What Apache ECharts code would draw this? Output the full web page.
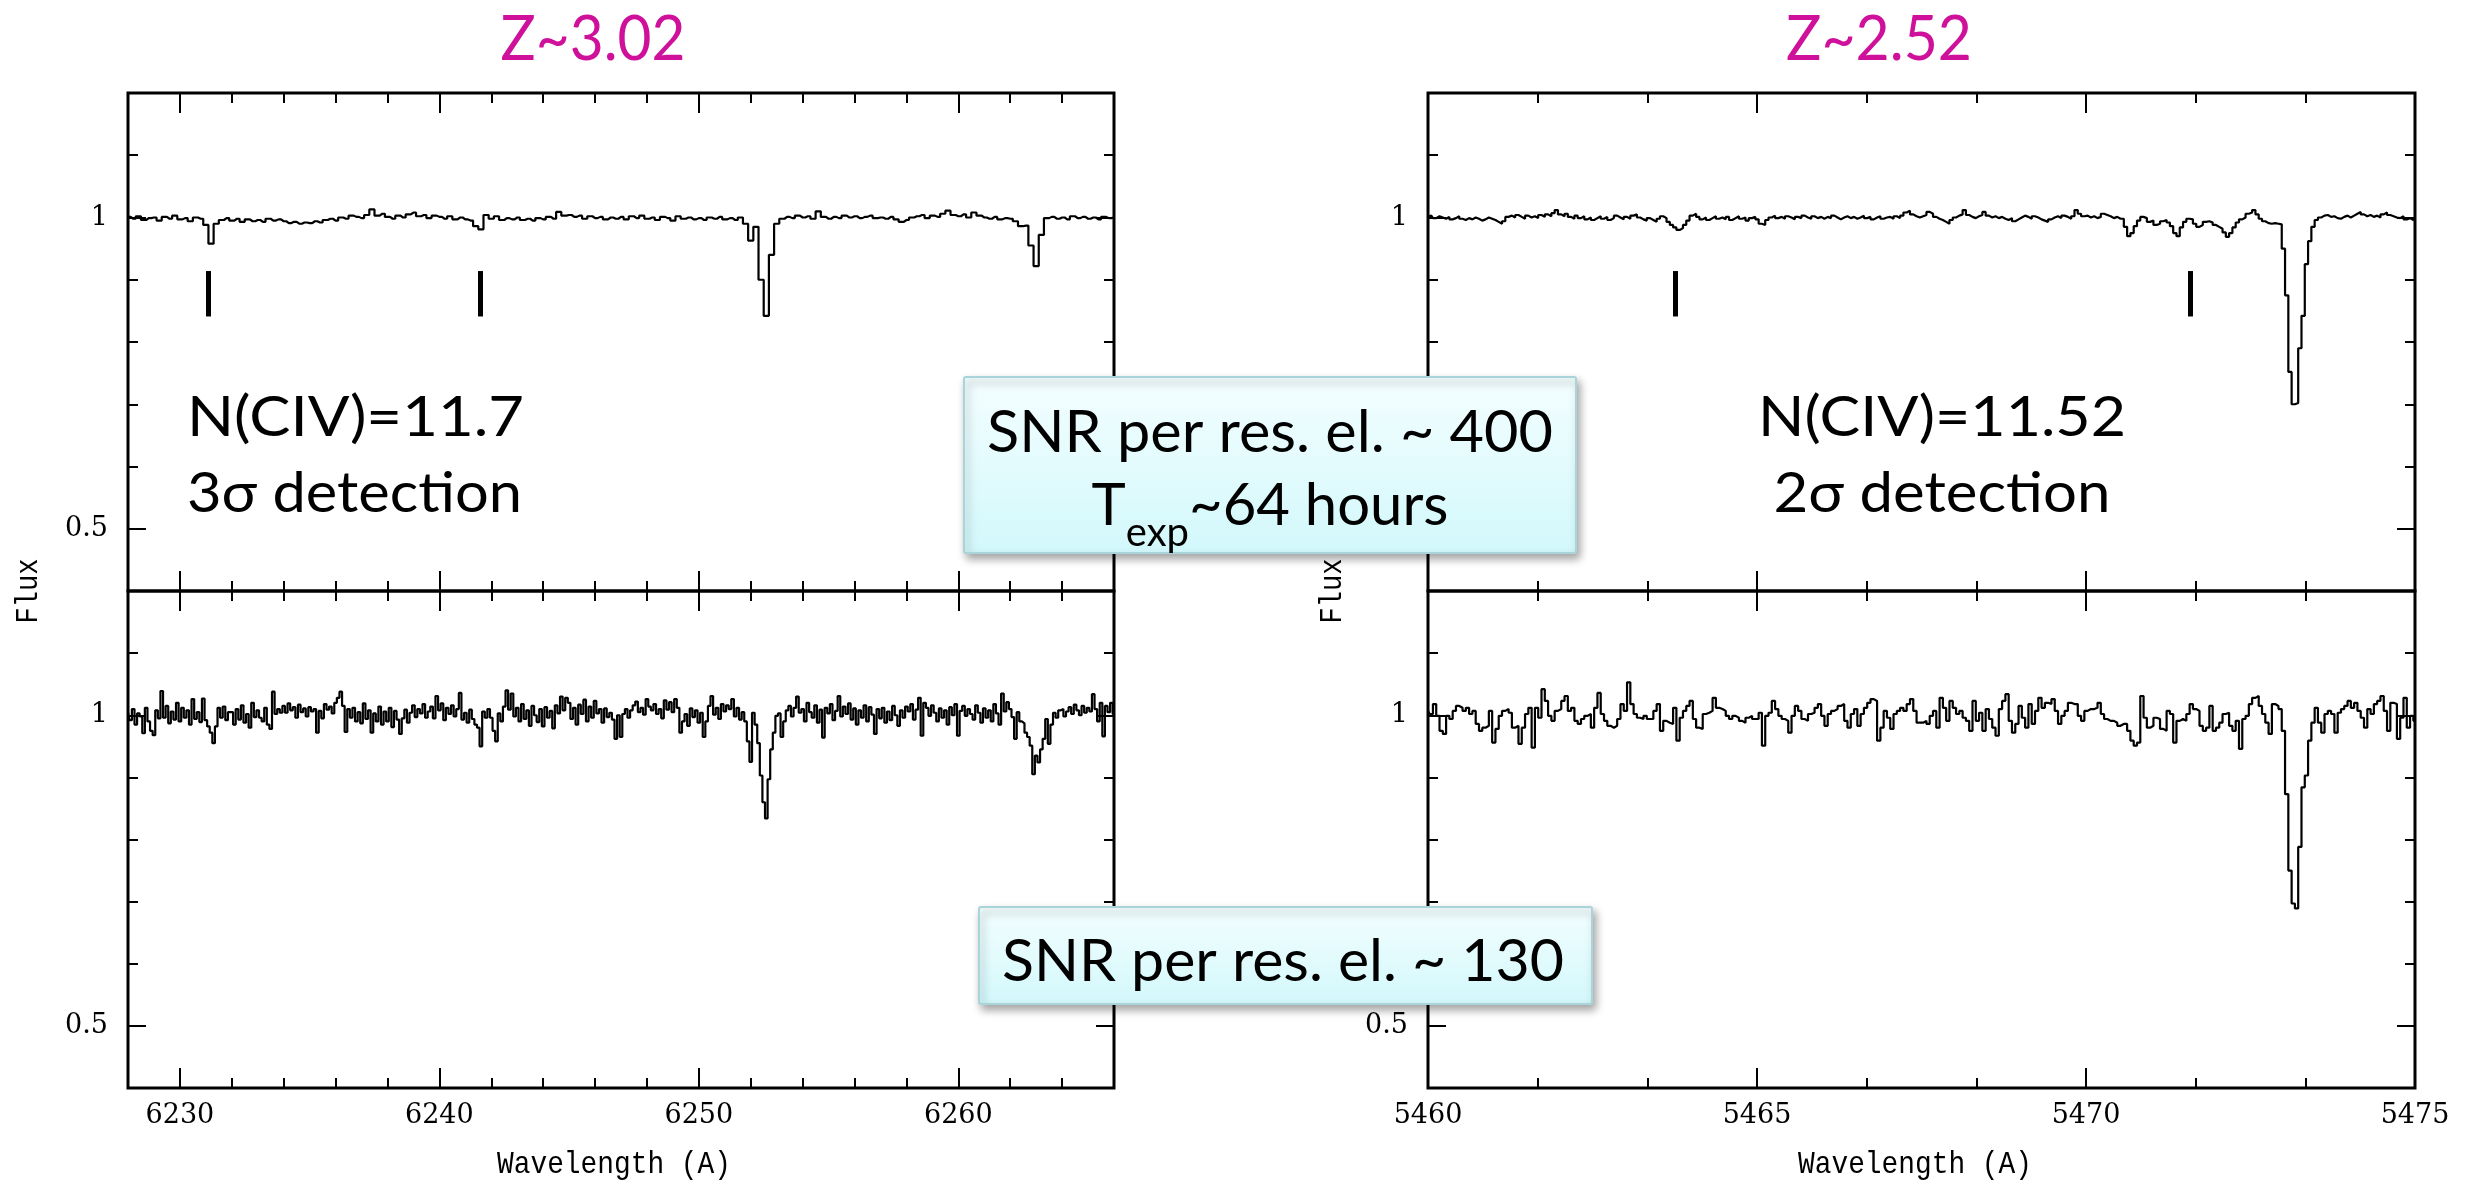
<!DOCTYPE html>
<html><head><meta charset="utf-8">
<script src="https://cdn.jsdelivr.net/npm/echarts@6/dist/echarts.min.js"></script>
<style>html,body{margin:0;padding:0;background:#fff}#c{width:2481px;height:1182px}</style>
</head><body><div id="c"></div>
<script>
// ---- spectra (flux, on a uniform wavelength pixel grid) ----
const tlStart = 6228, tlStep = 0.2;
const tlFlux = [
1.001,0.998,1.002,0.996,0.999, 1.000,0.995,1.001,0.998,1.003, 0.997,0.999,0.994,1.000,0.998,
0.988,0.958,0.990,0.996,0.999, 0.995,0.998,0.993,0.997,0.994, 0.996,0.993,0.998,0.995,0.997,
0.994,0.991,0.993,0.990,0.992, 0.991,0.994,0.992,0.996,0.998, 0.995,1.000,0.998,1.003,1.001,
0.999,1.004,1.013,1.003,1.006, 1.001,0.998,1.003,1.000,1.005, 1.008,1.002,1.004,0.999,1.003,
1.001,0.998,1.002,0.997,1.000, 0.997,0.995,0.986,0.981,1.004, 0.998,1.002,0.996,0.999,0.997,
1.000,0.996,0.998,0.995,0.999, 0.997,1.001,0.998,1.009,1.003, 1.004,1.001,1.003,0.998,1.002,
0.999,1.001,0.997,1.000,0.998, 1.001,0.997,1.002,0.999,1.003, 0.998,1.000,0.996,1.001,0.999,
0.995,1.002,0.998,1.000,0.997, 0.999,0.996,1.000,0.998,1.001, 0.997,0.999,0.996,1.000,0.990,
0.963,0.985,0.900,0.842,0.940, 0.990,0.998,1.001,0.999,1.003, 1.000,1.002,0.998,1.010,1.001,
0.998,1.001,0.999,1.003,1.000, 1.002,0.999,1.001,1.003,0.999, 1.000,0.998,1.001,0.997,0.993,
0.996,1.000,1.002,1.004,0.999, 1.003,1.001,1.006,1.011,1.004, 1.002,1.005,1.000,1.008,1.003,
1.000,0.998,1.001,0.997,0.999, 0.998,0.994,0.986,0.987,0.955, 0.922,0.972,0.999,1.001,0.998,
1.000,0.997,1.002,0.999,1.001, 0.998,1.000,0.997,1.001,0.999, 1.000
];
const blStart = 6228, blStep = 0.1;
const blFlux = [
1.005,0.992,1.010,0.985,1.003,0.998,0.971,1.012,0.990,0.975,
0.968,1.008,0.995,1.039,0.996,1.015,0.987,1.006,0.993,1.020,
0.990,1.012,0.996,1.008,0.985,1.026,0.994,1.005,0.989,1.027,
0.992,0.982,0.972,0.955,0.982,1.012,0.996,1.014,0.992,1.005,
1.005,0.985,1.010,0.993,1.016,0.988,1.002,0.980,1.020,0.997,
1.008,0.996,0.990,1.012,0.985,0.978,1.038,1.002,1.010,1.004,
1.015,1.004,1.019,1.008,1.013,0.996,1.017,1.005,1.011,0.998,
1.013,1.006,1.010,0.972,1.007,0.995,1.018,1.009,1.014,1.003,
1.020,1.028,1.038,1.015,0.973,1.010,0.996,1.012,0.990,1.005,
0.987,1.019,0.994,1.008,0.972,1.003,0.990,1.014,0.985,1.006,
0.990,1.012,0.981,1.007,0.993,0.970,0.995,1.009,0.988,1.004,
1.016,0.997,1.010,1.003,1.018,0.996,1.006,1.014,0.995,1.031,
1.008,1.019,0.992,1.012,1.002,1.016,0.998,1.010,1.036,0.993,
1.004,0.988,1.009,0.994,0.985,0.980,0.950,1.006,0.996,1.010,
0.996,0.975,0.958,1.003,0.990,1.014,1.040,1.009,1.035,0.998,
1.012,0.990,1.018,0.994,1.008,0.983,1.015,1.000,0.989,1.010,
0.982,1.013,0.996,1.007,0.979,1.016,1.003,1.030,1.008,1.028,
1.020,0.994,1.012,0.985,1.017,1.002,1.025,0.990,1.014,0.996,
1.023,1.003,1.010,0.988,1.011,0.997,1.004,0.993,0.962,1.000,
0.965,1.002,1.010,0.996,1.008,1.016,1.022,1.005,1.012,1.001,
1.026,1.014,1.008,1.018,1.002,1.010,0.995,1.024,1.009,1.021,
1.005,1.026,1.012,0.972,0.990,1.002,0.983,1.011,0.997,1.008,
0.988,1.004,0.965,0.990,1.015,1.031,1.001,1.012,0.994,1.018,
1.006,1.016,1.010,1.026,0.998,1.012,0.993,1.005,0.990,0.958,
0.925,1.004,0.985,0.955,0.903,0.860,0.834,0.897,0.945,0.972,
0.999,1.003,0.965,0.990,1.008,1.015,0.998,1.012,1.030,1.004,
1.010,0.990,1.020,1.005,0.996,1.016,0.988,1.009,0.964,1.012,
1.003,1.018,0.992,1.007,1.031,0.998,1.014,1.002,1.019,0.993,
1.011,0.985,1.008,0.996,1.016,0.990,1.013,1.001,0.970,1.010,
0.995,1.012,0.988,1.006,0.992,1.015,1.000,0.983,1.008,0.996,
1.014,1.006,1.018,0.993,1.009,1.028,0.967,1.020,1.012,0.999,
1.016,1.004,0.990,1.011,0.996,1.008,0.985,1.013,1.000,1.018,
0.967,1.007,1.015,0.999,1.010,1.002,0.993,1.016,1.004,0.988,
1.011,0.996,1.008,0.990,1.018,1.003,0.985,1.035,1.006,1.021,
1.010,0.997,0.962,1.005,0.990,0.987,0.972,0.965,0.951,0.905,
0.935,0.924,0.945,0.962,0.994,0.954,0.985,1.004,0.996,1.008,
1.010,0.998,1.006,1.013,1.002,1.017,1.008,1.000,1.015,1.004,
1.012,1.006,1.034,1.010,0.990,1.020,0.966,1.015,1.005,1.020,
1.002
];
const trStart = 5460, trStep = 0.05;
const trFlux = [
1.001,1.003,0.999,1.002,1.000,0.998,1.001,0.997,0.999,1.002,0.998,0.996,0.999,0.997,1.000,0.998,0.995,0.997,1.000,0.998,
0.996,0.993,0.990,0.994,1.001,1.003,1.000,1.004,1.001,0.998,1.003,1.000,1.002,0.999,1.004,1.001,1.005,1.002,1.007,1.012,
1.005,1.002,1.006,1.001,0.998,1.003,0.999,1.002,0.997,1.000,0.996,0.999,1.002,0.998,1.001,0.996,0.999,1.003,1.000,0.997,
1.001,0.998,1.003,1.005,1.000,0.997,0.995,0.999,0.996,0.993,0.998,1.002,0.999,0.993,0.988,0.984,0.980,0.983,0.988,0.995,
1.003,1.006,1.001,0.997,1.000,0.996,0.999,1.002,0.998,1.000,0.997,1.001,0.996,0.999,1.002,0.998,1.000,0.995,0.999,1.001,
0.997,0.990,0.988,0.996,1.000,1.003,0.999,1.001,0.998,1.002,1.000,0.997,1.001,0.999,1.003,1.000,0.998,1.002,0.999,1.001,
0.998,1.001,0.999,1.003,1.000,0.997,1.000,1.002,0.999,1.001,0.998,1.000,1.003,0.999,1.001,0.997,1.000,1.002,0.998,1.000,
1.001,0.998,1.002,0.999,1.003,1.008,1.011,1.005,1.002,1.000,1.002,1.004,1.009,1.006,1.001,0.998,0.996,0.993,0.990,0.996,
1.000,1.003,1.005,1.012,1.004,1.001,0.999,1.002,1.004,1.009,1.003,1.000,1.002,0.999,1.001,0.998,0.996,0.999,0.994,0.997,
1.000,1.003,1.001,0.998,1.002,1.000,0.997,0.995,0.993,0.997,1.000,1.002,0.999,1.003,1.001,0.998,1.002,1.012,1.006,1.002,
1.003,1.000,1.002,0.999,1.001,1.006,1.004,1.002,0.999,1.001,0.998,0.998,0.985,0.970,0.975,0.986,0.995,1.001,0.999,0.993,
0.995,0.988,0.990,0.994,0.996,0.992,0.986,0.975,0.970,0.984,0.993,0.998,0.997,0.990,0.985,0.988,0.993,0.994,0.992,0.988,
0.985,0.982,0.976,0.969,0.975,0.984,0.992,0.997,1.000,1.006,1.008,1.012,1.005,0.998,0.994,0.991,0.990,0.991,0.990,0.989,
0.950,0.875,0.752,0.700,0.702,0.790,0.842,0.925,0.962,0.985,0.996,1.000,1.003,1.004,1.001,1.002,0.999,0.998,1.001,1.003,
1.000,1.003,1.006,1.009,1.005,1.002,1.004,1.001,1.003,1.000,1.005,1.008,1.004,1.002,1.000,0.999,1.002,0.997,0.999,0.996,
0.998
];
const brStart = 5460, brStep = 0.05;
const brFlux = [
1.007,1.002,1.018,0.999,0.975,0.970,0.999,0.994,1.007,1.015,1.012,1.007,1.012,1.002,1.007,0.986,0.975,0.980,0.983,1.007,
0.956,0.978,0.999,1.007,1.010,1.004,0.980,0.983,0.954,0.980,1.002,1.012,0.948,1.012,0.996,1.042,1.023,0.999,0.991,1.007,
1.010,1.023,1.031,1.007,1.012,0.991,0.986,0.994,0.999,1.002,0.980,1.012,1.036,1.002,0.991,0.983,0.980,0.983,0.994,1.018,
1.007,1.053,1.018,1.002,0.996,0.994,0.999,0.994,0.994,1.007,1.018,0.975,0.991,0.988,0.986,1.012,0.959,0.996,1.007,1.015,
1.023,0.994,0.980,0.978,1.002,1.004,1.007,1.028,1.012,1.010,1.007,0.999,0.994,0.999,0.996,0.991,0.988,0.996,0.999,0.994,
0.994,1.004,0.951,0.999,1.004,1.023,1.010,0.999,0.994,0.991,0.972,0.999,1.015,1.007,0.994,0.991,1.002,1.004,1.012,1.018,
0.999,0.983,1.002,1.007,1.010,1.015,1.018,0.991,0.980,1.002,1.010,0.983,1.002,1.012,1.020,1.026,1.023,0.959,0.980,1.007,
0.996,0.978,1.002,1.007,1.012,1.007,1.018,1.026,1.007,0.988,0.988,0.991,0.986,0.999,1.007,0.980,1.028,1.012,0.991,1.023,
1.012,1.002,1.007,0.996,0.991,0.975,1.023,0.991,1.004,0.975,1.010,0.994,0.980,0.967,1.010,1.023,1.034,0.991,0.972,0.986,
1.015,0.996,0.980,1.018,0.986,1.007,1.028,1.012,1.020,1.018,1.026,1.007,0.986,0.999,1.007,1.020,1.018,1.018,0.999,0.991,
1.007,1.010,1.010,1.012,1.020,1.002,0.994,0.991,0.991,0.988,0.983,0.986,0.986,0.975,0.959,0.951,0.956,1.031,0.996,0.980,
0.983,0.996,0.994,0.978,0.975,1.007,1.002,0.956,0.991,0.994,0.991,1.002,1.018,1.010,1.007,0.983,0.975,0.980,1.015,0.975,
0.980,0.988,1.002,1.004,0.983,0.975,0.991,0.946,0.994,0.999,1.018,1.028,1.031,1.015,1.002,0.988,0.970,1.018,1.015,1.010,
0.975,0.873,0.750,0.697,0.689,0.788,0.884,0.903,0.959,0.988,1.012,0.988,0.972,1.002,1.007,1.002,0.972,1.004,1.010,1.015,
1.023,1.012,1.020,1.007,0.996,0.980,1.010,1.002,1.018,1.023,1.031,1.007,0.975,1.020,1.018,0.962,0.996,1.028,0.980,0.999,
0.991
];
// identification tick marks in the upper panels
const tlMarkers = [6231.09, 6241.57];
const trMarkers = [5463.76, 5471.58];
const markerRange = [0.841, 0.914];
// axis ranges and ticks
const leftRange = [6228, 6266];
const rightRange = [5460, 5475];
const fluxRange = [0.4, 1.2];
const leftMajor = [6230, 6240, 6250, 6260];
const leftMinor = [6228, 6230, 6232, 6234, 6236, 6238, 6240, 6242, 6244, 6246, 6248, 6250, 6252, 6254, 6256, 6258, 6260, 6262, 6264, 6266];
const rightMajor = [5460, 5465, 5470, 5475];
const rightMinor = [5461.667, 5463.333, 5466.667, 5468.333, 5471.667, 5473.333];
const yMajor = [0.5, 1];
const yMinor = [0.5, 0.6, 0.7, 0.8, 0.9, 1, 1.1];

const toXY = (start, step, arr) => arr.map((v, i) => [+(start + i * step).toFixed(3), v]);

const chart = echarts.init(document.getElementById('c'), null, {renderer: 'canvas'});
const tickLine = {color: '#000', width: 2};
const grids = [
  {left: 128, top: 93, width: 986, height: 498},
  {left: 128, top: 591, width: 986, height: 497},
  {left: 1428, top: 93, width: 987, height: 498},
  {left: 1428, top: 591, width: 987, height: 497}
].map(g => Object.assign(g, {show: true, borderColor: '#000', borderWidth: 3, backgroundColor: 'transparent'}));

const labelFont = {color: '#000', fontFamily: 'DejaVu Serif', fontSize: 27, formatter: v => String(v)};

function xAxesFor(g, range, major, minor, labels) {
  const base = {type: 'value', gridIndex: g, min: range[0], max: range[1], splitLine: {show: false}, axisLine: {show: false}};
  const mk = (pos, vals, len, lab) => Object.assign({}, base, {
    position: pos,
    axisTick: {show: true, inside: true, length: len, customValues: vals, lineStyle: tickLine},
    axisLabel: lab ? Object.assign({show: true, customValues: vals, margin: 14}, labelFont) : {show: false}
  });
  return [mk('bottom', major, 20, labels), mk('bottom', minor, 10, false), mk('top', major, 20, false), mk('top', minor, 10, false)];
}
function yAxesFor(g) {
  const base = {type: 'value', gridIndex: g, min: fluxRange[0], max: fluxRange[1], splitLine: {show: false}, axisLine: {show: false}};
  const mk = (pos, vals, len, lab) => Object.assign({}, base, {
    position: pos,
    axisTick: {show: true, inside: true, length: len, customValues: vals, lineStyle: tickLine},
    axisLabel: lab ? Object.assign({show: true, customValues: vals, margin: 20}, labelFont) : {show: false}
  });
  return [mk('left', yMajor, 18, true), mk('left', yMinor, 10, false), mk('right', yMajor, 18, false), mk('right', yMinor, 10, false)];
}

const xAxis = [].concat(
  xAxesFor(0, leftRange, leftMajor, leftMinor, false),
  xAxesFor(1, leftRange, leftMajor, leftMinor, true),
  xAxesFor(2, rightRange, rightMajor, rightMinor, false),
  xAxesFor(3, rightRange, rightMajor, rightMinor, true)
);
const yAxis = [].concat(yAxesFor(0), yAxesFor(1), yAxesFor(2), yAxesFor(3));

function spec(g, data, markers) {
  const s = {
    type: 'line', xAxisIndex: 4 * g, yAxisIndex: 4 * g, data: data, step: 'middle',
    showSymbol: false, symbol: 'none', silent: true, animation: false, z: 3,
    lineStyle: {color: '#000', width: 2.2}
  };
  if (markers) {
    s.markLine = {
      silent: true, animation: false, symbol: ['none', 'none'], label: {show: false},
      lineStyle: {color: '#000', width: 5, type: 'solid'},
      data: markers.map(x => [{coord: [x, markerRange[0]]}, {coord: [x, markerRange[1]]}])
    };
  }
  return s;
}

// text helpers: size by cap height, then stretch horizontally to the width seen in the reference
const mctx = document.createElement('canvas').getContext('2d');
function fit(text, size, family, weight, target) {
  mctx.font = (weight || 'normal') + ' ' + size + 'px "' + family + '"';
  const w = mctx.measureText(text).width;
  if (!(w > 0)) return 1;
  return Math.max(0.7, Math.min(1.4, target / w));
}
const sans = 'Lato', mono = 'Liberation Mono';
function T(x, y, text, size, width, extra, family, weight) {
  const fam = family || sans;
  const el = {type: 'text', x: x, y: y, z: 70, silent: true,
    style: Object.assign({text: text, fontSize: size, fontFamily: fam, fontWeight: weight || 'normal', fill: '#000', align: 'left', verticalAlign: 'middle'}, extra || {})};
  if (width) el.scaleX = fit(text, size, fam, weight, width);
  return el;
}
const boxStyle = {
  fill: new echarts.graphic.LinearGradient(0, 0, 0, 1, [{offset: 0, color: '#f4feff'}, {offset: 1, color: '#d2f8fb'}]),
  stroke: '#a9d4d9', lineWidth: 2, shadowBlur: 8, shadowOffsetX: 3, shadowOffsetY: 5, shadowColor: 'rgba(0,0,0,0.35)'
};
const magenta = '#cf109a';
const flux1 = T(29, 591, 'Flux', 32, 65, {align: 'center'}, mono, 'normal'); flux1.rotation = Math.PI / 2;
const flux2 = T(1333, 591, 'Flux', 32, 65, {align: 'center'}, mono, 'normal'); flux2.rotation = Math.PI / 2;

const graphic = [
  T(593, 40, 'Z~3.02', 61, 185, {align: 'center', fill: magenta}),
  T(1879, 40, 'Z~2.52', 61, 186, {align: 'center', fill: magenta}),
  T(187, 418, 'N(CIV)=11.7', 56, 337),
  T(187, 494, '3σ detection', 56, 335),
  T(1942, 418, 'N(CIV)=11.52', 56, 368, {align: 'center'}),
  T(1942, 494, '2σ detection', 56, 337, {align: 'center'}),
  T(614, 1165, 'Wavelength (A)', 32, 234, {align: 'center'}, mono, 'normal'),
  T(1915, 1165, 'Wavelength (A)', 32, 234, {align: 'center'}, mono, 'normal'),
  flux1, flux2,
  {type: 'rect', z: 80, silent: true, shape: {x: 964, y: 377, width: 612, height: 176, r: 2}, style: boxStyle},
  Object.assign(T(1270, 433, 'SNR per res. el. ~ 400', 58, 566, {align: 'center'}), {z: 81}),
  {type: 'text', z: 81, x: 1270, y: 477, silent: true, style: {
    text: '{m|T}{s|exp}{m|~64 hours}', align: 'center', verticalAlign: 'top',
    rich: {
      m: {fontSize: 58, fontFamily: sans, lineHeight: 64, verticalAlign: 'top', fill: '#000'},
      s: {fontSize: 40, fontFamily: sans, lineHeight: 40, padding: [36, 0, 0, 0], verticalAlign: 'top', fill: '#000'}
    }}},
  {type: 'rect', z: 80, silent: true, shape: {x: 979, y: 907, width: 613, height: 97, r: 2}, style: boxStyle},
  Object.assign(T(1283, 962, 'SNR per res. el. ~ 130', 58, 562, {align: 'center'}), {z: 81})
];

chart.setOption({
  animation: false,
  backgroundColor: '#fff',
  grid: grids,
  xAxis: xAxis,
  yAxis: yAxis,
  series: [
    spec(0, toXY(tlStart, tlStep, tlFlux), tlMarkers),
    spec(1, toXY(blStart, blStep, blFlux)),
    spec(2, toXY(trStart, trStep, trFlux), trMarkers),
    spec(3, toXY(brStart, brStep, brFlux))
  ],
  graphic: graphic
});
</script>
</body></html>
